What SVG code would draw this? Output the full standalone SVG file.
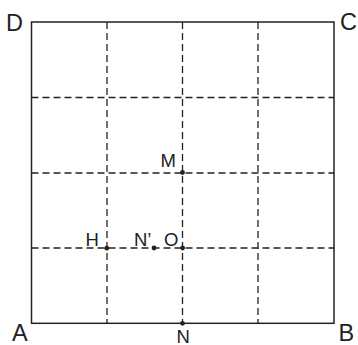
<svg xmlns="http://www.w3.org/2000/svg" width="358" height="345" viewBox="0 0 358 345">
<style>
.grid{stroke:#222;stroke-width:1.3;stroke-dasharray:7 4;fill:none}
.edge{stroke:#222;stroke-width:1.5;fill:none}
.big{font-family:"Liberation Sans",Arial,sans-serif;font-size:23.5px;fill:#222}
.lbl{font-family:"Liberation Sans",Arial,sans-serif;font-size:18.5px;fill:#222}
.dot{fill:#222}
</style>
<rect width="358" height="345" fill="#fff"/>
<g id="connectors">
<path class="grid" d="M107,22V323M182.5,22V323M258,22V323"/>
<path class="grid" d="M31.5,97.5H334M31.5,173H334M31.5,248H334"/>
<rect class="edge" x="31.5" y="22" width="302.5" height="301.3"/>
</g>
<g id="D"><text class="big" x="6" y="30.5">D</text></g>
<g id="C"><text class="big" x="340" y="29.5">C</text></g>
<g id="A"><text class="big" x="12" y="340.5">A</text></g>
<g id="B"><text class="big" x="338.5" y="340.5">B</text></g>
<g id="M"><circle class="dot" cx="182.5" cy="172.5" r="2.4"/><text class="lbl" x="160.5" y="166.5">M</text></g>
<g id="H"><circle class="dot" cx="106.8" cy="248.2" r="2.4"/><text class="lbl" x="85.5" y="246">H</text></g>
<g id="N2"><circle class="dot" cx="154" cy="248" r="2.4"/><text class="lbl" x="134" y="246">N’</text></g>
<g id="O"><circle class="dot" cx="182.6" cy="248" r="2.4"/><text class="lbl" x="164" y="246">O</text></g>
<g id="N"><circle class="dot" cx="182.5" cy="323.3" r="2.4"/><text class="lbl" x="176.5" y="342.5">N</text></g>
</svg>
